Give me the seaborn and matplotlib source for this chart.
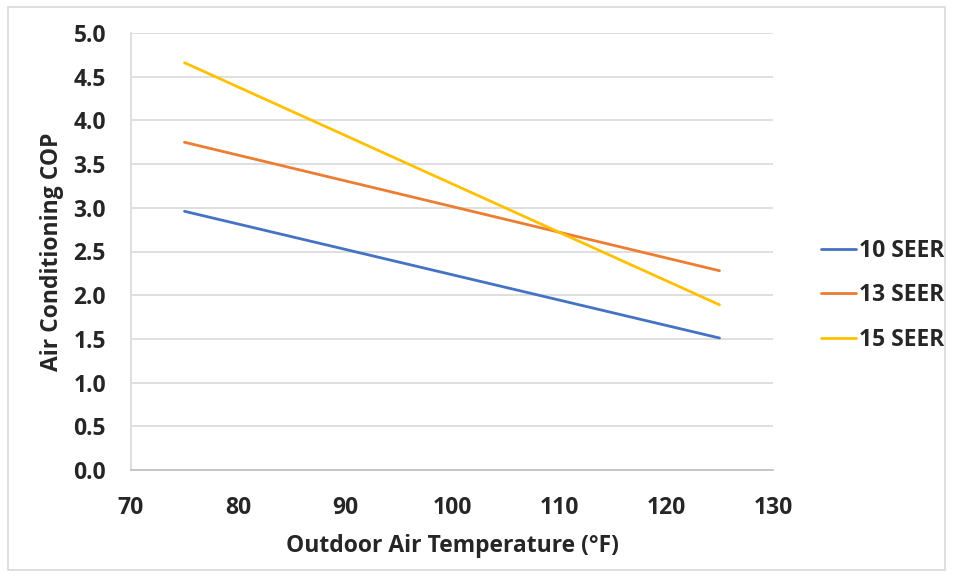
import matplotlib
matplotlib.use("Agg")
import matplotlib.pyplot as plt
import seaborn as sns
import pandas as pd
from matplotlib.patches import Rectangle

temps = [75, 125]
seer10 = [2.96, 1.51]
seer13 = [3.75, 2.28]
seer15 = [4.66, 1.89]
series_names = ["10 SEER", "13 SEER", "15 SEER"]
colors = ["#4472C4", "#ED7D31", "#FFC000"]
x_ticks = [70, 80, 90, 100, 110, 120, 130]
y_ticks = [0.0, 0.5, 1.0, 1.5, 2.0, 2.5, 3.0, 3.5, 4.0, 4.5, 5.0]

rows = []
for name, vals in zip(series_names, [seer10, seer13, seer15]):
    for t, v in zip(temps, vals):
        rows.append({"temp": t, "cop": v, "series": name})
df = pd.DataFrame(rows)

sns.set_theme(style="white")
plt.rcParams["font.family"] = ["Open Sans", "DejaVu Sans"]
plt.rcParams["font.weight"] = "bold"
FS = 16.5

fig = plt.figure(figsize=(9.54, 5.77), dpi=100)
ax = fig.add_axes([131/954, 1-470/577, (773-131)/954, (470-33)/577])

sns.lineplot(data=df, x="temp", y="cop", hue="series", palette=colors,
             hue_order=series_names, ax=ax, linewidth=2, legend=True)

ax.set_xlim(70, 130)
ax.set_ylim(0, 5)
ax.set_xticks(x_ticks)
ax.set_yticks(y_ticks)
ax.set_xticklabels([str(v) for v in x_ticks], fontsize=FS, fontweight="bold")
ax.set_yticklabels([f"{v:.1f}" for v in y_ticks], fontsize=FS, fontweight="bold")
ax.tick_params(axis="x", pad=19, length=0)
ax.tick_params(axis="y", pad=18, length=0)
ax.yaxis.grid(True, color="#D9D9D9", linewidth=1.2)
ax.xaxis.grid(False)
for s in ["top", "right"]:
    ax.spines[s].set_visible(False)
ax.spines["left"].set_color("#D9D9D9")
ax.spines["bottom"].set_color("#BFBFBF")
ax.spines["left"].set_linewidth(1.2)
ax.spines["bottom"].set_linewidth(1.2)

ax.set_xlabel("Outdoor Air Temperature (°F)", fontsize=FS, fontweight="bold", labelpad=10)
ax.set_ylabel("Air Conditioning COP", fontsize=FS, fontweight="bold", labelpad=7)

leg = ax.legend(title=None, loc="center left", bbox_to_anchor=(1.042, 0.40),
                frameon=False, fontsize=FS, handlelength=1.53, labelspacing=0.9,
                handletextpad=0.15)
for t in leg.get_texts():
    t.set_fontweight("bold")

fig.patches.append(Rectangle((8/954, 1-570/577), (945-8)/954, (570-7)/577,
                             transform=fig.transFigure, fill=False,
                             edgecolor="#D9D9D9", linewidth=1.2))

fig.savefig("out.png", dpi=100, facecolor="white")
